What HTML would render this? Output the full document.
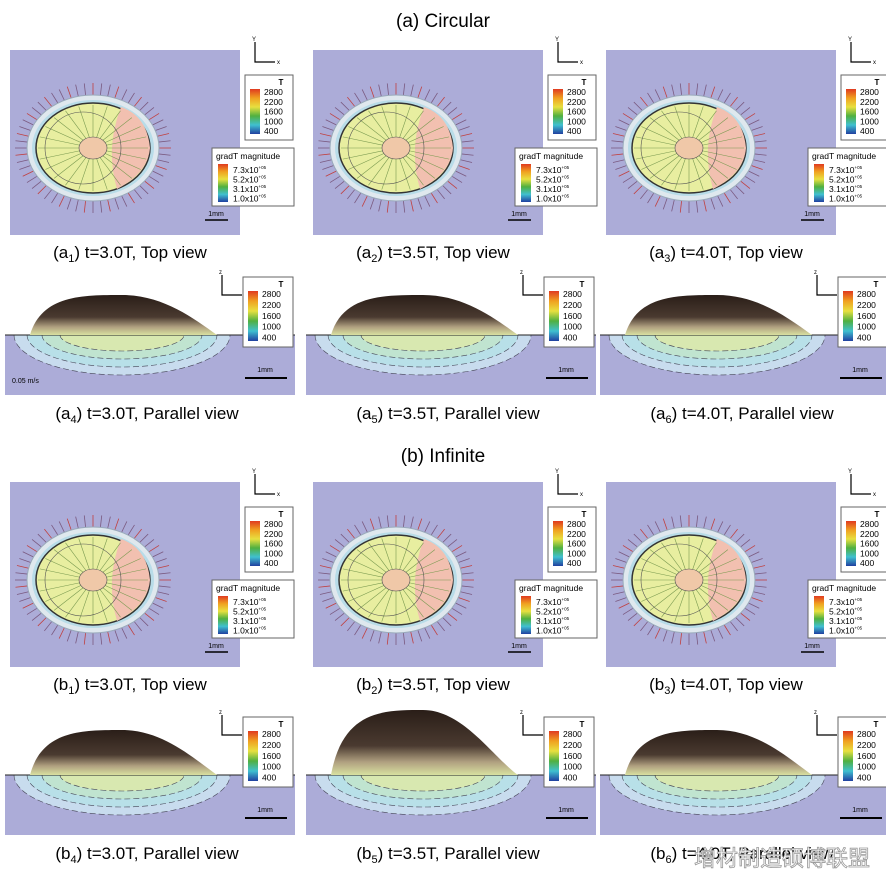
<!DOCTYPE html>
<html><head><meta charset="utf-8"><style>
body{margin:0;background:#fff}
svg{display:block;font-family:"Liberation Sans","Noto Sans CJK SC",sans-serif}
</style></head><body>
<svg id="fig" width="886" height="881" viewBox="0 0 886 881" xmlns="http://www.w3.org/2000/svg">
<defs>
<linearGradient id="cb" x1="0" y1="0" x2="0" y2="1">
<stop offset="0" stop-color="#e03a20"/><stop offset=".2" stop-color="#f0a020"/><stop offset=".4" stop-color="#e8e040"/><stop offset=".6" stop-color="#50b040"/><stop offset=".8" stop-color="#40c0d0"/><stop offset="1" stop-color="#2040a0"/></linearGradient>
<linearGradient id="dome" x1="0" y1="0" x2="0" y2="1">
<stop offset="0" stop-color="#2a1e18"/><stop offset=".55" stop-color="#4a3a30"/><stop offset=".8" stop-color="#b0a080"/><stop offset="1" stop-color="#d8e0a0"/></linearGradient>
</defs>
<text x="443" y="27" font-size="19" text-anchor="middle">(a) Circular</text>
<text x="443" y="462" font-size="19" text-anchor="middle">(b) Infinite</text>
<g id="panels"></g>
<text x="870" y="866" font-size="22" fill="#fff" stroke="#999" stroke-width="0.8" text-anchor="end">增材制造硕博联盟</text>
</svg>
<script>
const colX=[0,296,590];
const topRows=[{y:50,p:'a',n:[1,2,3]},{y:482,p:'b',n:[1,2,3]}];
const parRows=[{y:335,p:'a',n:[4,5,6]},{y:775,p:'b',n:[4,5,6]}];
const times=['3.0T','3.5T','4.0T'];
const tLabels=['2800','2200','1600','1000','400'];
const gLabels=['7.3x10','5.2x10','3.1x10','1.0x10'];
const NS='http://www.w3.org/2000/svg';
const G=document.getElementById('panels');
function el(t,a,p){const e=document.createElementNS(NS,t);for(const k in a)e.setAttribute(k,a[k]);(p||G).appendChild(e);return e;}
function txt(x,y,s,sz,p,anc){const e=el('text',{x:x,y:y,'font-size':sz,'text-anchor':anc||'start'},p);e.textContent=s;return e;}
function caption(cx,y,p,n,t,view){
 const e=el('text',{x:cx,y:y,'font-size':17,'text-anchor':'middle'});
 
 
 e.innerHTML='('+p+'<tspan font-size="11" dy="4">'+n+'</tspan><tspan dy="-4">) t='+t+', '+view+' view</tspan>';
}
function tLegend(x,y,w,h,g){
 el('rect',{x:x,y:y,width:w,height:h,fill:'#fff',stroke:'#666','stroke-width':1},g);
 txt(x+w-12,y+10,'T',8,g,'middle').setAttribute('font-weight','bold');
 el('rect',{x:x+5,y:y+14,width:10,height:h-20,fill:'url(#cb)'},g);
 tLabels.forEach((s,i)=>txt(x+19,y+20+i*(h-22)/4.4,s,8.5,g));
}
function axesIcon(x,y,g,a,b){
 el('path',{d:`M${x} ${y}V${y+20}H${x+20}`,fill:'none',stroke:'#000','stroke-width':1.2},g);
 txt(x-3,y-1,a,6,g);txt(x+22,y+22,b,6,g);
}
topRows.forEach(r=>r.n.forEach((n,i)=>{
 const ox=colX[i]+ (i===1?7:(i===2?6:0)), oy=r.y;
 const g=el('g',{});
 
 
 el('rect',{x:ox+10,y:oy,width:230,height:185,fill:'#acacd8'},g);
 const cx=ox+93,cy=oy+98;
 for(let k=0;k<56;k++){const a=k/56*2*Math.PI;const c=Math.cos(a),s=Math.sin(a);
  el('line',{x1:cx+66*c,y1:cy+53*s,x2:cx+78*c,y2:cy+65*s,stroke:k%3?'#7a5a80':'#c04040','stroke-width':0.8},g);}
 el('ellipse',{cx:cx,cy:cy,rx:66,ry:53,fill:'#dfe8ee',stroke:'#9ab','stroke-width':1},g);
 el('ellipse',{cx:cx,cy:cy,rx:61,ry:48,fill:'#b8dce8'},g);
 el('ellipse',{cx:cx,cy:cy,rx:57,ry:45,fill:'#e8eea0',stroke:'#333','stroke-width':1.5},g);
 el('path',{d:`M${cx+28} ${cy-41}Q${cx+12} ${cy} ${cx+24} ${cy+41}Q${cx+55} ${cy+25} ${cx+57} ${cy}Q${cx+54} ${cy-32} ${cx+28} ${cy-41}Z`,fill:'#f2c0b0'},g);
 for(let k=0;k<24;k++){const a=k/24*2*Math.PI;el('line',{x1:cx,y1:cy,x2:cx+55*Math.cos(a),y2:cy+43*Math.sin(a),stroke:'#7a9a50','stroke-width':0.6},g);}
 el('ellipse',{cx:cx-10,cy:cy,rx:38,ry:36,fill:'none',stroke:'#555','stroke-width':0.6},g);
 el('ellipse',{cx:cx,cy:cy,rx:14,ry:11,fill:'#f0c8a8',stroke:'#555','stroke-width':0.6},g);
 axesIcon(ox+255,oy-8,g,'Y','x');
 tLegend(ox+245,oy+25,48,65,g);
 el('rect',{x:ox+212,y:oy+98,width:82,height:58,fill:'#fff',stroke:'#666'},g);
 txt(ox+216,oy+109,'gradT magnitude',8.5,g);
 el('rect',{x:ox+218,y:oy+114,width:10,height:38,fill:'url(#cb)'},g);
 gLabels.forEach((s,j)=>{const t=txt(ox+233,oy+123+j*9.5,s,8.5,g);const sp=document.createElementNS(NS,'tspan');sp.setAttribute('font-size','4.5');sp.setAttribute('dy','-4');sp.textContent='+05';t.appendChild(sp);});
 txt(ox+216,oy+166,'1mm',7,g,'middle');
 el('line',{x1:ox+205,y1:oy+170,x2:ox+228,y2:oy+170,stroke:'#000','stroke-width':1.5},g);
 caption(ox+130,oy+208,r.p,n,times[i],'Top');
}));
parRows.forEach((r,ri)=>r.n.forEach((n,i)=>{
 const ox=colX[i]+(i===0?0:5), sy=r.y;
 const g=el('g',{});
 
 
 el('rect',{x:ox+5,y:sy,width:290,height:60,fill:'#acacd8'},g);
 const cx=ox+122;
 [[108,40,'#c8dcee'],[95,32,'#b8e0e8'],[80,24,'#c0e4d0'],[62,16,'#d8e8b0']].forEach(e=>{
  el('path',{d:`M${cx-e[0]} ${sy}A${e[0]} ${e[1]} 0 0 0 ${cx+e[0]} ${sy}Z`,fill:e[2],stroke:'#445','stroke-width':0.6,'stroke-dasharray':'6 3'},g);});
 el('line',{x1:ox+5,y1:sy,x2:ox+295,y2:sy,stroke:'#222','stroke-width':1},g);
 const h=(ri===1&&i===1)?65:(ri===1?45:40);
 el('path',{d:`M${cx-92} ${sy}C${cx-80} ${sy-h} ${cx-40} ${sy-h} ${cx} ${sy-h}C${cx+40} ${sy-h} ${cx+70} ${sy-18} ${cx+95} ${sy}Z`,fill:'url(#dome)'},g);
 axesIcon(ox+222,sy-60,g,'z','x');
 tLegend(ox+243,sy-58,50,70,g);
 txt(ox+265,sy+37,'1mm',7,g,'middle');
 el('line',{x1:ox+245,y1:sy+43,x2:ox+287,y2:sy+43,stroke:'#000','stroke-width':2},g);
 if(ri===0&&i===0){txt(ox+12,sy+48,'0.05 m/s',7,g);}
 caption(ox+147,sy+84,r.p,n,times[i],'Parallel');
}));
</script>
</body></html>
